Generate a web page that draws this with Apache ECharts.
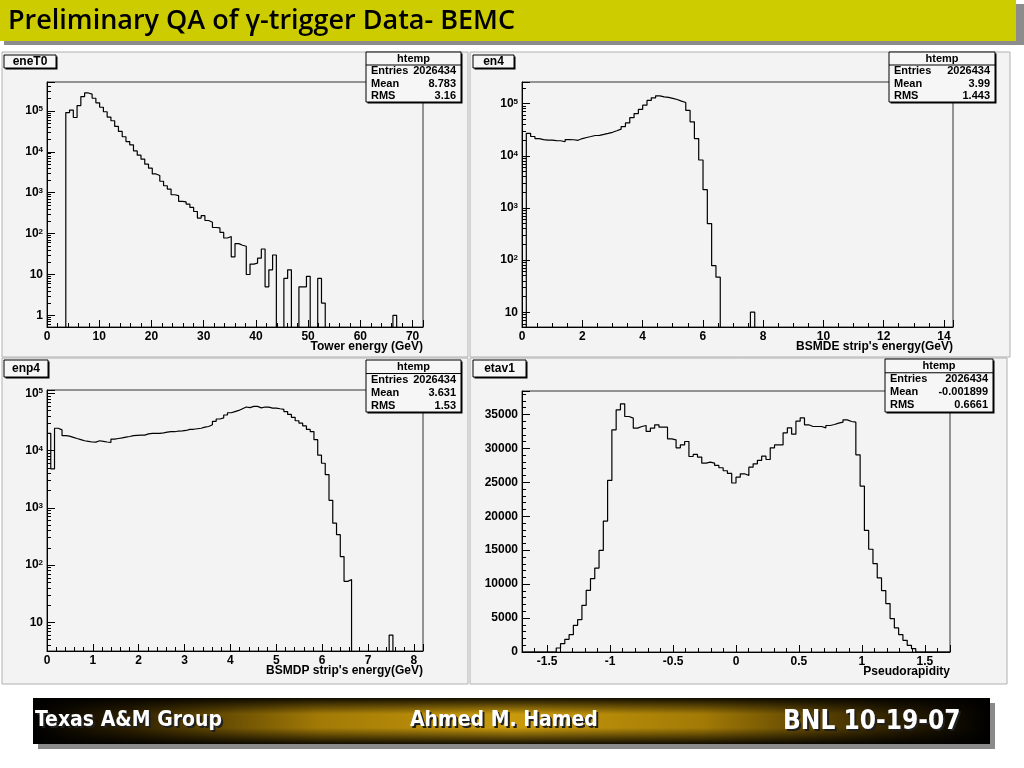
<!DOCTYPE html>
<html><head><meta charset="utf-8">
<script src="https://cdn.jsdelivr.net/npm/echarts@6/dist/echarts.min.js"></script>
<style>html,body{margin:0;padding:0;background:#fff}#c{width:1024px;height:768px}</style>
</head><body><div id="c"></div>
<script>
// ---------------- data ----------------
const histNames = ['eneT0', 'en4', 'enp4', 'etav1'];
const xTitles = ['Tower energy (GeV)', "BSMDE strip's energy(GeV)", "BSMDP strip's energy(GeV)", 'Pseudorapidity'];
const xRanges = [[0, 72], [0, 14.3], [0, 8.2], [-1.7, 1.7]];
const yRanges = [[0.52, 5.1e5], [5.2, 2.6e5], [3.16, 1.14e5], [0, 38450]];
const xMajor = [10, 2, 1, 0.5];
const xMinor = [2, 0.5, 0.2, 0.1];
const statEntries = ['2026434', '2026434', '2026434', '2026434'];
const statMean = ['8.783', '3.99', '3.631', '-0.001899'];
const statRMS = ['3.16', '1.443', '1.53', '0.6661'];

const eneT0Counts = [
  0, 0, 0, 0, 0, 91000, 105000, 69000, 135000, 224000,
  275000, 257000, 204000, 158000, 123000, 95500, 70800, 57500, 41700, 31600,
  23400, 17800, 14800, 10500, 8300, 6600, 5000, 3980, 2880, 2630,
  1905, 1480, 1230, 891, 851, 617, 600, 525, 437, 347,
  240, 275, 209, 190, 141, 138, 107, 78, 85, 27,
  57, 52, 49, 10, 18, 19, 25, 42, 5, 13,
  30, 0, 0, 8, 13, 0, 0, 5, 5, 9,
  0, 0, 8, 2, 0, 0, 0, 0, 0, 0,
  0, 0, 0, 0, 0, 0, 0, 0, 0, 0,
  0, 0, 1, 0, 0, 0, 0, 0, 0, 0
];
const en4Counts = [
  0, 26900, 23400, 21400, 20400, 20000, 19900, 19500, 19400, 18600,
  20400, 20300, 19800, 21400, 22400, 23400, 24500, 24600, 25700, 26900,
  28200, 30200, 32400, 36300, 42700, 53700, 64600, 77600, 93300, 115000,
  129000, 141000, 135000, 132000, 126000, 120000, 112000, 105000, 74100, 44700,
  21400, 8300, 2240, 500, 78, 47, 0, 0, 0, 0,
  0, 0, 0, 10, 0, 0, 0, 0, 0, 0,
  0, 0, 0, 0, 0, 0, 0, 0, 0, 0,
  0, 0, 0, 0, 0, 0, 0, 0, 0, 0,
  0, 0, 0, 0, 0, 0, 0, 0, 0, 0,
  0, 0, 0, 0, 0, 0, 0, 0, 0, 0
];
const enp4Counts = [
  20000, 4800, 24500, 22900, 18200, 17800, 17000, 16200, 15500, 14800,
  14500, 14100, 14000, 14800, 14500, 14100, 13800, 15800, 16200, 16600,
  17200, 17600, 18200, 18400, 18600, 18600, 19500, 20000, 19900, 20000,
  20400, 20900, 21400, 21300, 21900, 22100, 22400, 23400, 23500, 24000,
  24500, 25700, 26300, 28200, 32400, 35500, 37200, 41700, 45700, 47900,
  50100, 53700, 57500, 56200, 58900, 58900, 55600, 57500, 57400, 55000,
  55000, 53700, 52500, 47900, 42700, 38000, 33100, 30200, 26900, 23400,
  21400, 15500, 8300, 6000, 3800, 1350, 540, 340, 141, 52,
  56, 0, 0, 0, 0, 0, 0, 0, 0, 0,
  0, 6, 0, 0, 0, 0, 0, 0, 0, 0
];
const etav1Counts = [
  0, 0, 0, 0, 0, 0, 0, 0, 590, 1230,
  1860, 2550, 3930, 4760, 6870, 9080, 10800, 12370, 14970, 19290,
  25270, 32730, 35680, 36560, 34690, 34450, 32980, 33220, 33370, 32490,
  32980, 33470, 33120, 33120, 31400, 31260, 30080, 30520, 31010, 28800,
  29100, 28710, 27820, 27970, 27820, 27480, 27140, 26700, 26300, 24900,
  25760, 26250, 26000, 27230, 27720, 28220, 28850, 28360, 30080, 30520,
  30520, 32290, 33020, 32090, 34000, 34500, 33470, 33220, 33220, 33220,
  33020, 33370, 33510, 33710, 33860, 34200, 33960, 33860, 29050, 24440,
  17910, 15140, 13030, 10910, 9050, 7130, 4920, 3540, 2560, 1720,
  980, 490, 0, 0, 0, 0, 0, 0, 0, 0
];
const allCounts = [eneT0Counts, en4Counts, enp4Counts, etav1Counts];
const isLog = [true, true, true, false];

// ---------------- layout ----------------
const FONT = '"Liberation Sans", Arial, Helvetica, sans-serif';
const P = [
  { bg: [2, 52, 466, 305], grid: [47, 82, 376, 245], title: [4, 55, 52, 13], stats: [366, 52, 95, 50] },
  { bg: [470, 52, 540, 305], grid: [522, 82, 431, 245], title: [473, 55, 41, 13], stats: [889, 52, 106, 50] },
  { bg: [2, 358, 466, 326], grid: [47, 390, 376, 261], title: [4, 360, 44, 17], stats: [366, 360, 95, 52] },
  { bg: [470, 358, 537, 326], grid: [522, 391, 428, 261], title: [473, 360, 53, 17], stats: [885, 359, 108, 53] }
];

function histLine(counts, range, floor) {
  const n = counts.length, w = (range[1] - range[0]) / n, pts = [];
  for (let i = 0; i < n; i++) pts.push([range[0] + i * w, counts[i] > 0 ? counts[i] : floor]);
  pts.push([range[1], floor]);
  return pts;
}
function stepValues(min, max, step) {
  const out = [];
  const s = Math.ceil(min / step - 1e-9), e = Math.floor(max / step + 1e-9);
  for (let j = s; j <= e; j++) out.push(Math.round(j * step * 1e6) / 1e6);
  return out;
}
function logMinor(min, max) {
  const out = [];
  for (let e = Math.floor(Math.log10(min)); e <= Math.ceil(Math.log10(max)); e++)
    for (let m = 2; m <= 9; m++) { const v = m * Math.pow(10, e); if (v >= min && v <= max) out.push(v); }
  return out;
}
function logLabel(v) {
  const l = Math.log10(v), e = Math.round(l);
  if (Math.abs(l - e) > 1e-6) return '';
  if (e === 0) return '{b|1}';
  if (e === 1) return '{b|10}';
  return '{b|10}{s|' + e + '}';
}
const multFmt = m => v => { const r = v / m; return Math.abs(r - Math.round(r)) > 1e-6 ? '' : String(Math.round(v * 10) / 10); };

const labelBase = { color: '#000', fontFamily: FONT, fontWeight: 'bold', fontSize: 12 };
const richLog = {
  b: { fontSize: 12, fontWeight: 'bold', fontFamily: FONT, color: '#000', lineHeight: 12, verticalAlign: 'bottom' },
  s: { fontSize: 8, fontWeight: 'bold', fontFamily: FONT, color: '#000', lineHeight: 8, padding: [0, 0, 8, 0], verticalAlign: 'top' }
};
const axLine = { show: true, onZero: false, lineStyle: { color: '#000', width: 1 } };
const noLine = { show: false, onZero: false };

const grids = P.map(p => ({ left: p.grid[0], top: p.grid[1], width: p.grid[2], height: p.grid[3], show: true,
  backgroundColor: '#f3f3f3', borderColor: '#333', borderWidth: 1, containLabel: false, outerBoundsMode: 'none' }));

const xAxes = [], yAxes = [], series = [];
for (let i = 0; i < 4; i++) {
  const xr = xRanges[i], yr = yRanges[i];
  const xa = { type: 'value', gridIndex: i, min: xr[0], max: xr[1], position: 'bottom',
    axisLine: axLine, axisTick: { show: true, inside: true, length: 7, lineStyle: { color: '#000' } },
    minorTick: { show: false }, splitLine: { show: false },
    axisLabel: Object.assign({ margin: 4, formatter: multFmt(xMajor[i]) }, labelBase) };
  if (i < 3) xa.interval = xMajor[i]; else xa.splitNumber = 7;
  xAxes.push(xa);
  let ya;
  if (isLog[i]) {
    ya = { type: 'log', logBase: 10, gridIndex: i, min: yr[0], max: yr[1], position: 'left',
      axisLine: axLine, axisTick: { show: true, inside: true, length: 8, lineStyle: { color: '#000' } },
      splitLine: { show: false }, minorTick: { show: false },
      axisLabel: { margin: 4, formatter: logLabel, rich: richLog } };
  } else {
    ya = { type: 'value', gridIndex: i, min: yr[0], max: yr[1], interval: 5000, position: 'left',
      axisLine: axLine, axisTick: { show: true, inside: true, length: 8, lineStyle: { color: '#000' } },
      splitLine: { show: false }, minorTick: { show: false },
      axisLabel: Object.assign({ margin: 4, formatter: multFmt(5000) }, labelBase) };
  }
  yAxes.push(ya);
  series.push({ type: 'line', xAxisIndex: i, yAxisIndex: i, data: histLine(allCounts[i], xr, isLog[i] ? 1e-3 : 0),
    step: 'end', showSymbol: false, symbol: 'none', clip: true, silent: true, animation: false,
    lineStyle: { color: '#000', width: 1.2 } });
}
// minor tick axes
for (let i = 0; i < 4; i++) {
  const xr = xRanges[i], yr = yRanges[i];
  xAxes.push({ type: 'value', gridIndex: i, min: xr[0], max: xr[1], position: 'bottom',
    axisLine: noLine, axisLabel: { show: false }, splitLine: { show: false },
    axisTick: { show: true, inside: true, length: 4, lineStyle: { color: '#000' }, customValues: stepValues(xr[0], xr[1], xMinor[i]) } });
  yAxes.push({ type: isLog[i] ? 'log' : 'value', gridIndex: i, min: yr[0], max: yr[1], position: 'left',
    axisLine: noLine, axisLabel: { show: false }, splitLine: { show: false },
    axisTick: { show: true, inside: true, length: 4, lineStyle: { color: '#000' },
      customValues: isLog[i] ? logMinor(yr[0], yr[1]) : stepValues(yr[0], yr[1], 1000) } });
}

// ---------------- decorations ----------------
const G = [];
const txt = (x, y, text, font, fill, align, extra) => Object.assign({ type: 'text', x: x, y: y, z: 20,
  style: { text: text, font: font, fill: fill, align: align || 'left', textAlign: align || 'left', verticalAlign: 'middle', textVerticalAlign: 'middle' } }, extra || {});
const rect = (x, y, w, h, style, z) => ({ type: 'rect', shape: { x: x, y: y, width: w, height: h }, style: style, z: z });

// header
G.push(rect(4, 4, 1020, 41, { fill: '#8c8c8c' }, -30));
G.push(rect(0, 0, 1016, 41, { fill: '#cccc00' }, -29));
G.push(txt(8, 21, 'Preliminary QA of \u03b3-trigger Data- BEMC', '600 27px "Open Sans", "Noto Sans", sans-serif', '#000'));

const boldF = s => 'bold ' + s + 'px ' + FONT;
for (let i = 0; i < 4; i++) {
  const p = P[i];
  G.push(rect(p.bg[0], p.bg[1], p.bg[2], p.bg[3], { fill: '#f3f3f3', stroke: '#b0b0b0', lineWidth: 1 }, -20));
  // axis title, right-aligned under the frame
  const gx = p.grid[0] + p.grid[2], gy = p.grid[1] + p.grid[3];
  G.push(txt(gx, gy + 20, xTitles[i], boldF(12), '#000', 'right'));
  // title box
  const t = p.title;
  G.push(rect(t[0] + 1.5, t[1] + 1.5, t[2], t[3], { fill: '#000' }, 15));
  G.push(rect(t[0], t[1], t[2], t[3], { fill: '#f6f6f6', stroke: '#000', lineWidth: 1 }, 16));
  G.push(txt(t[0] + t[2] / 2, t[1] + t[3] / 2 + 0.5, histNames[i], boldF(12), '#000', 'center'));
  // stats box
  const s = p.stats, hh = s[3] * 0.26;
  G.push(rect(s[0] + 1.5, s[1] + 1.5, s[2], s[3], { fill: '#000' }, 15));
  G.push(rect(s[0], s[1], s[2], s[3], { fill: '#f6f6f6', stroke: '#000', lineWidth: 1 }, 16));
  G.push({ type: 'line', shape: { x1: s[0], y1: s[1] + hh, x2: s[0] + s[2], y2: s[1] + hh }, style: { stroke: '#000', lineWidth: 1 }, z: 17 });
  G.push(txt(s[0] + s[2] / 2, s[1] + hh / 2 + 0.5, 'htemp', boldF(11), '#000', 'center'));
  const rows = [['Entries', statEntries[i]], ['Mean', statMean[i]], ['RMS', statRMS[i]]];
  rows.forEach((r, j) => {
    const yy = s[1] + hh + (s[3] - hh) * (j + 0.5) / 3;
    G.push(txt(s[0] + 5, yy, r[0], boldF(11), '#000', 'left'));
    G.push(txt(s[0] + s[2] - 5, yy, r[1], boldF(11), '#000', 'right'));
  });
}

// footer
G.push(rect(38, 703, 957, 46, { fill: '#8a8a8a' }, -30));
G.push(rect(33, 698, 957, 46, { fill: { type: 'linear', x: 0, y: 0, x2: 1, y2: 0, colorStops: [
  { offset: 0, color: '#000' }, { offset: 0.1, color: '#2e2000' }, { offset: 0.3, color: '#a27a06' },
  { offset: 0.5, color: '#c99a0c' }, { offset: 0.7, color: '#a27a06' }, { offset: 0.9, color: '#2e2000' }, { offset: 1, color: '#000' }] } }, -29));
G.push(rect(33, 698, 957, 46, { fill: { type: 'linear', x: 0, y: 0, x2: 0, y2: 1, colorStops: [
  { offset: 0, color: 'rgba(0,0,0,0.9)' }, { offset: 0.35, color: 'rgba(0,0,0,0)' },
  { offset: 0.65, color: 'rgba(0,0,0,0)' }, { offset: 1, color: 'rgba(0,0,0,0.9)' }] } }, -28));
const footF = s => 'bold ' + s + 'px "DejaVu Sans Condensed", "Liberation Sans Narrow", "DejaVu Sans", sans-serif';
const foot = [['Texas A&M Group', 35, 721, 21], ['Ahmed M. Hamed', 410, 721, 21], ['BNL 10-19-07', 783, 722, 26]];
foot.forEach(f => {
  G.push(txt(f[1] + 2, f[2] + 2, f[0], footF(f[3]), '#202020', 'left'));
  G.push(txt(f[1], f[2], f[0], footF(f[3]), '#ffffff', 'left'));
});

const chart = echarts.init(document.getElementById('c'), null, { renderer: 'canvas' });
chart.setOption({
  animation: false,
  backgroundColor: '#ffffff',
  grid: grids,
  xAxis: xAxes,
  yAxis: yAxes,
  series: series,
  graphic: { elements: G }
});
</script></body></html>
